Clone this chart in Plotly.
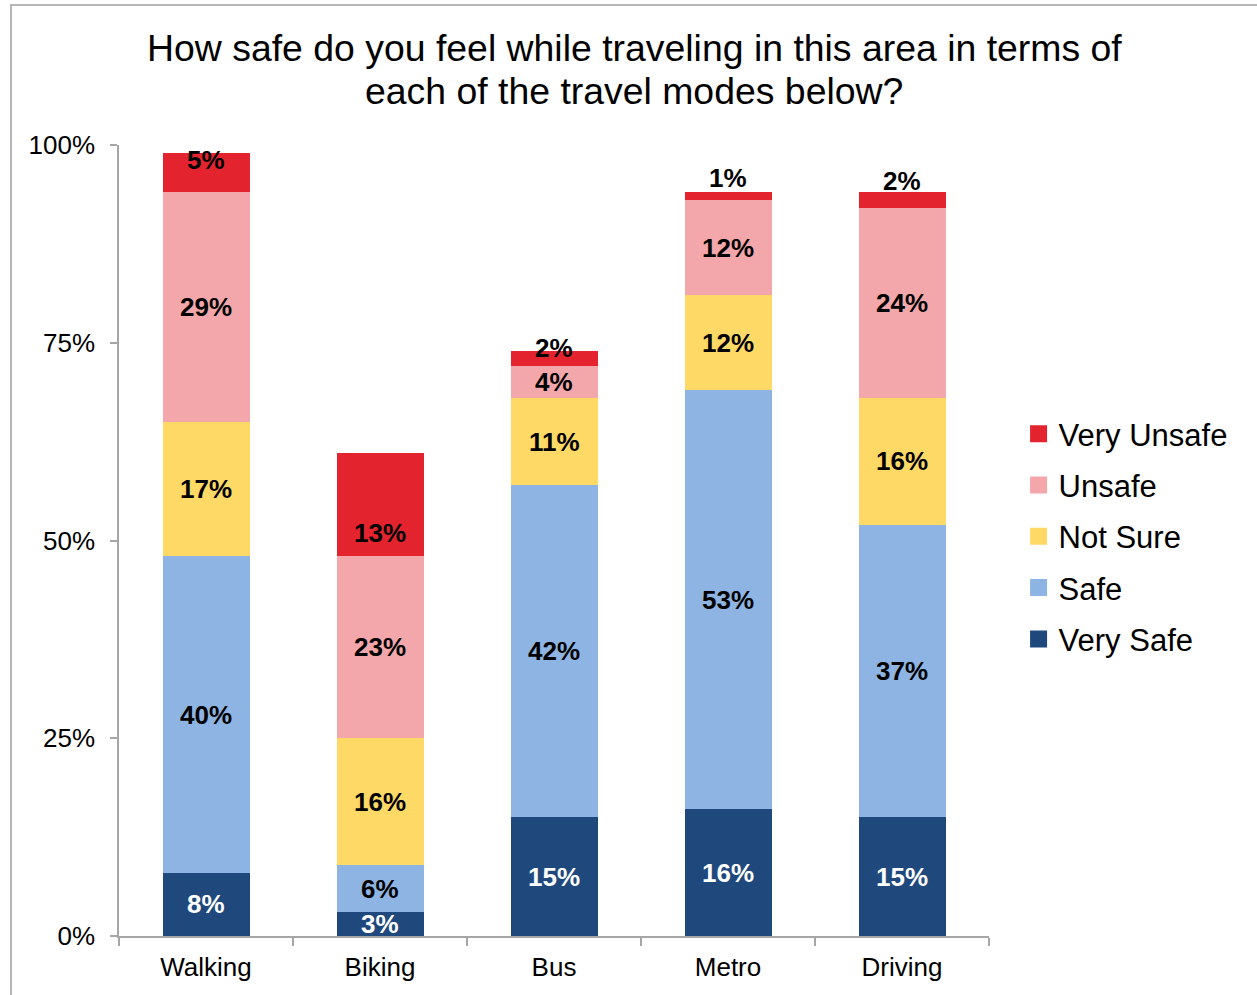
import plotly.graph_objects as go

# Survey results: perceived safety by travel mode (percent of respondents)
modes = ["Walking", "Biking", "Bus", "Metro", "Driving"]
very_safe = [8, 3, 15, 16, 15]
safe = [40, 6, 42, 53, 37]
not_sure = [17, 16, 11, 12, 16]
unsafe = [29, 23, 4, 12, 24]
very_unsafe = [5, 13, 2, 1, 2]

series_names = ["Very Safe", "Safe", "Not Sure", "Unsafe", "Very Unsafe"]
series_values = [very_safe, safe, not_sure, unsafe, very_unsafe]

y_ticks = [0, 25, 50, 75, 100]
y_tick_labels = ["0%", "25%", "50%", "75%", "100%"]

title_lines = [
    "How safe do you feel while traveling in this area in terms of",
    "each of the travel modes below?",
]

# styling
colors = ["#1F497D", "#8EB4E3", "#FFD966", "#F4A7AA", "#E3242F"]
label_colors = ["white", "black", "black", "black", "black"]
# pixel nudges for the top (Very Unsafe) labels
top_label_shift = [13, -28, 11, 18, 19]
FONT = "Liberation Sans, Arial, sans-serif"
AXIS_GRAY = "#A6A6A6"

W, H = 1257, 995
ML, MR, MT, MB = 119, 268, 145, 59
PW, PH = W - ML - MR, H - MT - MB

fig = go.Figure()
n = len(series_names)
for k, (name, vals, col) in enumerate(zip(series_names, series_values, colors)):
    # the stacked segments
    fig.add_trace(go.Bar(
        x=modes, y=vals, name=name, legendgroup=name, showlegend=False,
        marker=dict(color=col, line=dict(width=0)),
        hoverinfo="x+y+name",
    ))
    # legend entry with a larger square swatch (no data drawn)
    fig.add_trace(go.Bar(
        x=[modes[0]], y=[None], name=name, legendgroup=name,
        legendrank=n - k, showlegend=True, hoverinfo="skip",
        marker=dict(color=col, line=dict(color=col, width=5)),
    ))

# data labels centred in each stacked segment
annotations = []
base = [0] * len(modes)
for s, (vals, tcol) in enumerate(zip(series_values, label_colors)):
    for i, v in enumerate(vals):
        shift = top_label_shift[i] if s == n - 1 else 0
        annotations.append(dict(
            x=modes[i], y=base[i] + v / 2, xref="x", yref="y",
            text=f"<b>{v}%</b>", showarrow=False, yshift=shift,
            font=dict(family=FONT, size=26, color=tcol),
        ))
        base[i] += v

# two-line title, placed in page pixels
for k, line in enumerate(title_lines):
    px, py = 634, 48 + 43 * k
    annotations.append(dict(
        x=(px - ML) / PW, y=(H - MB - py) / PH, xref="paper", yref="paper",
        text=line, showarrow=False, xanchor="center", yanchor="middle",
        font=dict(family=FONT, size=37.4, color="black"),
    ))

fig.update_layout(
    width=W, height=H,
    margin=dict(l=ML, r=MR, t=MT, b=MB),
    barmode="stack", bargap=0.5,
    paper_bgcolor="white", plot_bgcolor="white",
    font=dict(family=FONT, size=26, color="black"),
    showlegend=True,
    legend=dict(
        traceorder="grouped", tracegroupgap=8,
        x=1.034, xanchor="left", y=0.505, yanchor="middle",
        font=dict(family=FONT, size=31, color="black"),
        bgcolor="rgba(0,0,0,0)", itemclick=False, itemdoubleclick=False,
    ),
    annotations=annotations,
    shapes=[dict(
        type="rect", xref="paper", yref="paper",
        x0=(11 - ML) / PW, x1=(1300 - ML) / PW,
        y0=(936 - 1100) / PH, y1=(936 - 5) / PH,
        line=dict(color="#A0A0A0", width=1.5), fillcolor="rgba(0,0,0,0)",
        layer="below",
    )],
)

fig.update_xaxes(
    showline=True, linecolor=AXIS_GRAY, linewidth=1.5,
    ticks="outside", tickson="boundaries", ticklen=8, tickcolor=AXIS_GRAY,
    tickwidth=1.5, showgrid=False, zeroline=False, ticklabelstandoff=7,
    tickfont=dict(family=FONT, size=26, color="black"),
)
fig.update_yaxes(
    range=[0, 100], tickvals=y_ticks, ticktext=y_tick_labels,
    showline=True, linecolor=AXIS_GRAY, linewidth=1.5,
    ticks="outside", ticklen=7, tickcolor=AXIS_GRAY, tickwidth=1.5,
    showgrid=False, zeroline=False, ticklabelstandoff=10,
    tickfont=dict(family=FONT, size=26, color="black"),
)

fig.write_html("out.html")
